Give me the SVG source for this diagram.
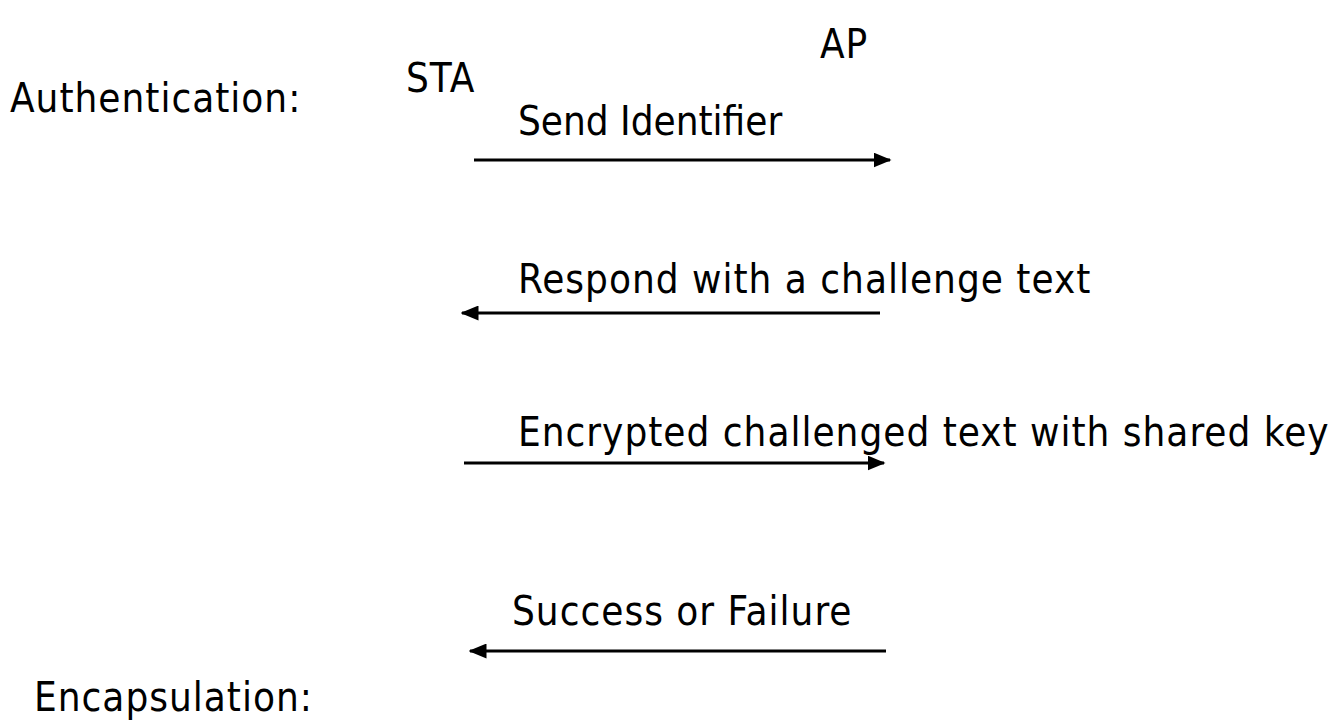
<svg xmlns="http://www.w3.org/2000/svg" width="1344" height="723" viewBox="0 0 1344 723">
  <style>
    text { font-family: "DejaVu Sans", "Liberation Sans", sans-serif; font-stretch: condensed; font-size: 40px; letter-spacing: 1px; fill: #000; }
    text.tight { letter-spacing: 0; }
    .msg { stroke: #000; stroke-width: 3; fill: none; marker-end: url(#head); }
  </style>
  <defs>
    <marker id="head" markerWidth="6" markerHeight="5" refX="5.5" refY="2.5" orient="auto" markerUnits="strokeWidth">
      <path d="M0,0 L6,2.5 L0,5 Z" fill="#000"/>
    </marker>
  </defs>
  <rect width="1344" height="723" fill="#fff"/>

  <!-- section labels and the two stations -->
  <g id="section-authentication"><text x="10" y="112">Authentication:</text></g>
  <g id="sta"><text x="406" y="92">STA</text></g>
  <g id="ap"><text x="820" y="58">AP</text></g>

  <!-- message arrows between STA and AP -->
  <g id="connectors">
    <line class="msg" x1="474" y1="160" x2="890" y2="160"/>
    <line class="msg" x1="880" y1="313" x2="462" y2="313"/>
    <line class="msg" x1="464" y1="463" x2="884" y2="463"/>
    <line class="msg" x1="886" y1="651" x2="470" y2="651"/>
  </g>

  <g id="msg-send-identifier"><text class="tight" x="518" y="135">Send Identifier</text></g>
  <g id="msg-challenge"><text x="518" y="293">Respond with a challenge text</text></g>
  <g id="msg-encrypted"><text x="518" y="446">Encrypted challenged text with shared key</text></g>
  <g id="msg-result"><text x="512" y="625">Success or Failure</text></g>

  <g id="section-encapsulation"><text x="34" y="711">Encapsulation:</text></g>
</svg>
